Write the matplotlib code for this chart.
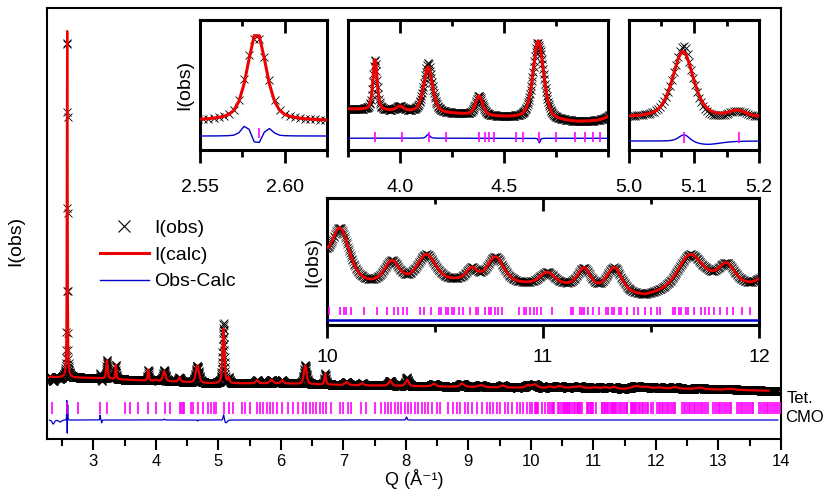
import numpy as np
import matplotlib.pyplot as plt
from matplotlib.ticker import MultipleLocator
from matplotlib.lines import Line2D

plt.rcParams['font.family'] = ['Liberation Sans', 'DejaVu Sans']

# background of the pattern (Q, intensity)
bg_q = [2.30, 3.00, 3.75, 4.30, 4.85, 5.45, 6.00, 7.00, 8.50, 9.80, 10.20, 10.60, 11.10, 11.47, 11.76, 12.00, 12.50, 14.00]
bg_i = [62.0, 61.0, 58.6, 57.4, 55.6, 55.6, 55.6, 54.0, 52.5, 51.3, 51.0, 51.2, 50.9, 50.2, 51.1, 50.8, 50.2, 48.0]

# calculated reflections: position, height, fwhm
peak_q = [2.5835, 3.22, 3.36, 3.88, 4.00, 4.135, 4.38, 4.665, 5.083, 5.167,
          5.62, 5.85, 6.02, 6.39, 6.71, 7.05, 7.30, 7.75, 8.02, 8.45, 8.90, 9.20, 9.55, 9.95,
          10.06, 10.30, 10.46, 10.67, 10.78, 11.02, 11.19, 11.33, 11.68, 11.85, 12.05,
          12.30, 12.70, 13.20]
peak_h = [362, 18.5, 14.5, 11.0, 1.0, 10.0, 4.2, 17.2, 55, 5.0,
          3.0, 3.5, 3.0, 18.8, 11.0, 3.0, 2.0, 5.0, 6.0, 2.5, 3.3, 2.0, 2.0, 2.5,
          3.5, 1.4, 1.8, 0.8, 1.7, 0.8, 1.3, 1.6, 2.1, 1.3, 1.0,
          1.5, 1.5, 1.0]
peak_w = [0.013, 0.03, 0.02, 0.024, 0.04, 0.05, 0.04, 0.06, 0.038, 0.03,
          0.05, 0.06, 0.05, 0.05, 0.03, 0.06, 0.05, 0.06, 0.06, 0.08, 0.08, 0.10, 0.08, 0.08,
          0.10, 0.08, 0.10, 0.06, 0.09, 0.08, 0.07, 0.08, 0.13, 0.09, 0.10,
          0.10, 0.12, 0.15]

# obs - calc misfit features
dev_q = [2.36, 2.47, 2.577, 2.5835, 2.5905, 3.11, 3.135, 4.135, 4.67, 5.085, 5.12, 8.01]
dev_h = [-4.0, -2.0, 22.0, -26.0, 16.0, 5.0, -3.0, 0.8, -1.0, 6.0, -3.0, 3.0]
dev_w = [0.04, 0.05, 0.006, 0.004, 0.006, 0.01, 0.01, 0.02, 0.01, 0.02, 0.05, 0.02]

# reflection markers
refl_q = [2.335, 2.585, 2.76, 3.11, 3.22, 3.51, 3.59, 3.72, 3.88, 4.01, 4.14, 4.22, 4.38, 4.41,
          4.43, 4.45, 4.56, 4.59, 4.67, 4.75, 4.84, 4.89, 4.93, 4.96, 5.085, 5.17, 5.24, 5.38,
          5.43, 5.51, 5.62, 5.67, 5.72, 5.78, 5.83, 5.88, 5.94, 6.02, 6.12, 6.20, 6.28, 6.36,
          6.41, 6.47, 6.52, 6.57, 6.63, 6.68, 6.73, 6.81, 6.95, 7.00, 7.08, 7.13, 7.29, 7.37,
          7.51, 7.61, 7.67, 7.72, 7.77, 7.83, 7.88, 7.93, 7.99, 8.04, 8.09, 8.15, 8.20, 8.25,
          8.31, 8.36, 8.41, 8.49, 8.55, 8.68, 8.76, 8.81, 8.87, 8.95, 9.00, 9.05, 9.13, 9.21,
          9.29, 9.35, 9.40, 9.45, 9.51, 9.59, 9.64, 9.69, 9.77, 9.83, 9.88, 9.93, 9.99,
          10.01, 10.06, 10.08, 10.09, 10.11, 10.17, 10.23, 10.28, 10.31, 10.33, 10.35, 10.37,
          10.43, 10.45, 10.48, 10.52, 10.53, 10.55, 10.56, 10.58, 10.59, 10.61, 10.63, 10.66,
          10.69, 10.70, 10.73, 10.75, 10.76, 10.78, 10.79, 10.81, 10.89, 10.91, 10.92, 10.94,
          10.96, 10.97, 10.99, 11.04, 11.13, 11.14, 11.17, 11.18, 11.19, 11.21, 11.23, 11.26,
          11.29, 11.30, 11.32, 11.33, 11.35, 11.36, 11.39, 11.42, 11.44, 11.47, 11.50, 11.53,
          11.54, 11.60, 11.61, 11.63, 11.64, 11.66, 11.67, 11.70, 11.73, 11.75, 11.77, 11.79,
          11.82, 11.85, 11.88, 11.92, 11.96,
          12.02, 12.05, 12.07, 12.10, 12.12, 12.15, 12.18, 12.20, 12.23, 12.26, 12.29, 12.31,
          12.42, 12.45, 12.47, 12.50, 12.53, 12.55, 12.58, 12.61, 12.63, 12.66, 12.69, 12.72,
          12.74, 12.77, 12.80, 12.83, 12.92, 12.95, 12.98, 13.01, 13.03, 13.06, 13.09, 13.12,
          13.15, 13.18, 13.20, 13.30, 13.33, 13.36, 13.38, 13.41, 13.44, 13.47, 13.50, 13.53,
          13.56, 13.65, 13.68, 13.71, 13.74, 13.77, 13.80, 13.83, 13.86, 13.89, 13.92, 13.95, 13.98]

RED, BLUE, MAG = '#ee0000', '#0000cc', '#ff00ff'


def profile(x, pos, hgt, wid, eta=0.5):
    out = np.zeros_like(x)
    for p, h, w in zip(pos, hgt, wid):
        u = (x - p) / (w / 2)
        out += h * (eta / (1 + u ** 2) + (1 - eta) * np.exp(-np.log(2) * u ** 2))
    return out


q = np.arange(2.30, 13.95, 0.003)
calc = np.interp(q, bg_q, bg_i) + profile(q, peak_q, peak_h, peak_w)
obs = calc + profile(q, dev_q, dev_h, dev_w)
diff = obs - calc
refl = np.array(refl_q)

W, H = 836, 492
fig = plt.figure(figsize=(W / 100, H / 100), dpi=100)


def box(l, t, r, b):
    return [l / W, 1 - b / H, (r - l) / W, (b - t) / H]


def draw(ax, lo, hi, ylim, dbase, tlo, thi, ms, lwc, lwd, dscale=1.0, calc_end=None, mew=0.6):
    m = (q >= lo - 0.01) & (q <= hi + 0.01)
    ax.plot(q[m], obs[m], ls='none', marker='x', color='k', ms=ms, mew=mew, zorder=2)
    mc = m & (q <= (calc_end if calc_end else hi + 0.01))
    ax.plot(q[mc], calc[mc], color=RED, lw=lwc, zorder=3)
    ax.plot(q[m], dbase + dscale * diff[m], color=BLUE, lw=lwd, zorder=4)
    r = refl[(refl >= lo) & (refl <= hi)]
    ax.vlines(r, tlo, thi, color=MAG, lw=1.2, zorder=5)
    ax.set_xlim(lo, hi)
    ax.set_ylim(*ylim)
    ax.set_yticks([])


# main panel
ax = fig.add_axes(box(47, 8, 781, 439))
draw(ax, 2.26, 14.0, (0, 431), 19, 25, 37, 6, 1.6, 0.9, calc_end=13.8)
ax.set_xlim(2.26, 14.0)
for s in ax.spines.values():
    s.set_linewidth(1.5)
ax.xaxis.set_major_locator(MultipleLocator(1))
ax.xaxis.set_minor_locator(MultipleLocator(0.5))
ax.tick_params(axis='x', which='major', direction='out', length=8, width=1.5, labelsize=12, pad=3)
ax.tick_params(axis='x', which='minor', direction='out', length=5, width=1.5)
ax.set_xlabel('Q (Å⁻¹)', fontsize=13, labelpad=0)
ax.set_ylabel('I(obs)', fontsize=14)
ax.yaxis.set_label_coords(-0.031, 0.46)
ax.text(1.008, 0.093, 'Tet.', transform=ax.transAxes, fontsize=12, va='center', ha='left')
ax.text(1.005, 0.05, 'CMO', transform=ax.transAxes, fontsize=12, va='center', ha='left')

handles = [Line2D([], [], ls='none', marker='x', color='k', ms=8, mew=0.8),
           Line2D([], [], color=RED, lw=2.2),
           Line2D([], [], color=BLUE, lw=1.0)]
fig.legend(handles, ['I(obs)', 'I(calc)', 'Obs-Calc'], loc='upper left',
           bbox_to_anchor=(100 / W, 1 - 219 / H), bbox_transform=fig.transFigure,
           frameon=False, fontsize=14, borderpad=0, borderaxespad=0,
           handlelength=2.5, handletextpad=0.3, labelspacing=0.48)


def style_inset(ax, major, minor, pad):
    for s in ax.spines.values():
        s.set_linewidth(2.2)
    ax.xaxis.set_major_locator(MultipleLocator(major))
    ax.xaxis.set_minor_locator(MultipleLocator(minor))
    ax.tick_params(axis='x', which='major', direction='out', length=9, width=2, labelsize=14, pad=pad)
    ax.tick_params(axis='x', which='minor', direction='out', length=5, width=2)
    top = ax.secondary_xaxis('top')
    top.xaxis.set_major_locator(MultipleLocator(major))
    top.xaxis.set_minor_locator(MultipleLocator(minor))
    top.tick_params(axis='x', which='major', direction='in', length=9, width=2, labeltop=False)
    top.tick_params(axis='x', which='minor', direction='in', length=4, width=2)
    top.spines['top'].set_linewidth(2.2)


# inset 1: main reflection
a1 = fig.add_axes(box(200, 20, 327, 150))
draw(a1, 2.55, 2.625, (-56.9, 471.6), 0.0, -8, 32, 6, 2.2, 1.0, dscale=2.0)
style_inset(a1, 0.05, 0.025, 12)
a1.xaxis.set_major_formatter(lambda v, p: f'{v:.2f}')
a1.set_ylabel('I(obs)', fontsize=14, labelpad=5)

# inset 2
a2 = fig.add_axes(box(348, 20, 608, 150))
draw(a2, 3.75, 5.0, (49.74, 78.0), 52.3, 51.5, 53.7, 6, 2.2, 1.0)
style_inset(a2, 0.5, 0.25, 12)
a2.set_xticks([4.0, 4.5])
a2.xaxis.set_major_formatter(lambda v, p: f'{v:.1f}')

# inset 3
a3 = fig.add_axes(box(629, 20, 759, 150))
draw(a3, 5.0, 5.2, (28.67, 137.0), 36.2, 34.5, 43.7, 6, 2.2, 1.0)
style_inset(a3, 0.1, 0.05, 12)
a3.xaxis.set_major_formatter(lambda v, p: f'{v:.1f}')

# inset 4: high Q
a4 = fig.add_axes(box(327, 198, 759, 325))
draw(a4, 10.0, 12.0, (48.33, 56.8), 48.67, 49.0, 49.53, 6, 2.0, 1.8, mew=0.45)
style_inset(a4, 1.0, 0.5, 8)
a4.set_ylabel('I(obs)', fontsize=14, labelpad=4)

fig.savefig('out.png', dpi=100)
